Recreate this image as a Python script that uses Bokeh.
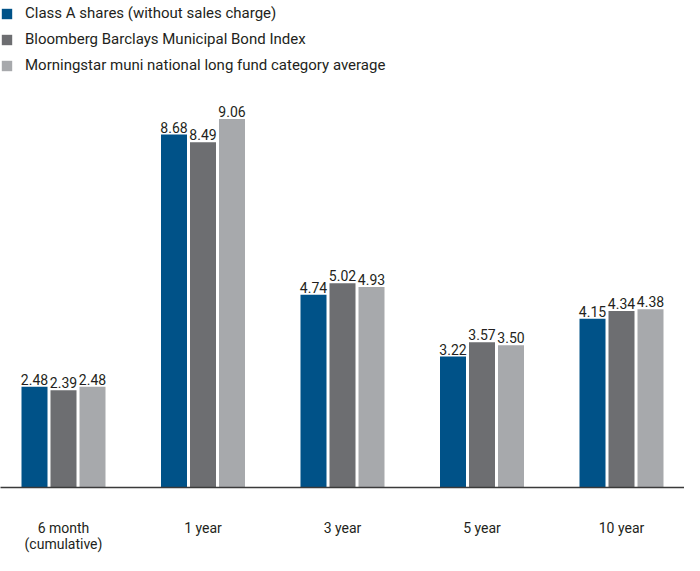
from bokeh.plotting import figure
from bokeh.models import ColumnDataSource, Range1d, LinearAxis, FixedTicker
from bokeh.core.properties import value
from bokeh.embed import file_html
from bokeh.resources import INLINE

# ---- data ----
categories = ["6 month\n(cumulative)", "1 year", "3 year", "5 year", "10 year"]
series_names = [
    "Class A shares (without sales charge)",
    "Bloomberg Barclays Municipal Bond Index",
    "Morningstar muni national long fund category average",
]
class_a = [2.48, 8.68, 4.74, 3.22, 4.15]
muni_index = [2.39, 8.49, 5.02, 3.57, 4.34]
category_avg = [2.48, 9.06, 4.93, 3.50, 4.38]

colors = ["#005288", "#6d6e71", "#a7a9ac"]
FONT = "Roboto"
TEXT_COLOR = "#231f20"

W, H = 684, 555
FRAME_H = 479
px_per_x = 139.5
px_per_y = 40.0
x0 = 63 / px_per_x

p = figure(width=W, height=H, output_backend="svg", toolbar_location=None,
           x_range=Range1d(-x0, (W - 63) / px_per_x),
           y_range=Range1d(0, FRAME_H / px_per_y),
           min_border_left=0, min_border_right=0, min_border_top=0,
           min_border_bottom=0, x_axis_type=None, y_axis_type=None,
           outline_line_color=None)
p.grid.visible = False
p.background_fill_color = "white"
p.border_fill_color = "white"

offset = 29 / px_per_x
bar_w = 26 / px_per_x
xs = list(range(len(categories)))
for k, (vals, name, col) in enumerate(zip([class_a, muni_index, category_avg], series_names, colors)):
    xpos = [i + (k - 1) * offset for i in xs]
    src = ColumnDataSource(dict(x=xpos, top=vals, lab=["%.2f" % v for v in vals]))
    p.vbar(x="x", top="top", bottom=0, width=bar_w, source=src, fill_color=col,
           line_color=None, legend_label=name)
    p.text(x="x", y="top", text="lab", source=src, text_align="center",
           text_baseline="bottom", y_offset=-2, text_font=value(FONT),
           text_font_size="14px", text_color=TEXT_COLOR)

xaxis = LinearAxis(ticker=FixedTicker(ticks=xs),
                   major_label_overrides={i: c for i, c in zip(xs, categories)})
xaxis.axis_line_color = "#3a3a3a"
xaxis.axis_line_width = 1.5
xaxis.major_tick_line_color = None
xaxis.minor_tick_line_color = None
xaxis.major_tick_out = 0
xaxis.major_tick_in = 0
xaxis.axis_label_standoff = 0
xaxis.major_label_standoff = 32
xaxis.major_label_text_font = FONT
xaxis.major_label_text_font_size = "14px"
xaxis.major_label_text_line_height = 1.05
xaxis.major_label_text_color = TEXT_COLOR
p.add_layout(xaxis, "below")

lg = p.legend[0]
lg.location = (0, 412)
lg.padding = 0
lg.margin = 0
lg.spacing = 6
lg.border_line_color = None
lg.background_fill_alpha = 0
lg.glyph_width = 13
lg.glyph_height = 13
lg.label_height = 20
lg.label_standoff = 12
lg.label_text_font = FONT
lg.label_text_font_size = "15px"
lg.label_text_color = TEXT_COLOR

open("out.html", "w").write(file_html(p, INLINE))
